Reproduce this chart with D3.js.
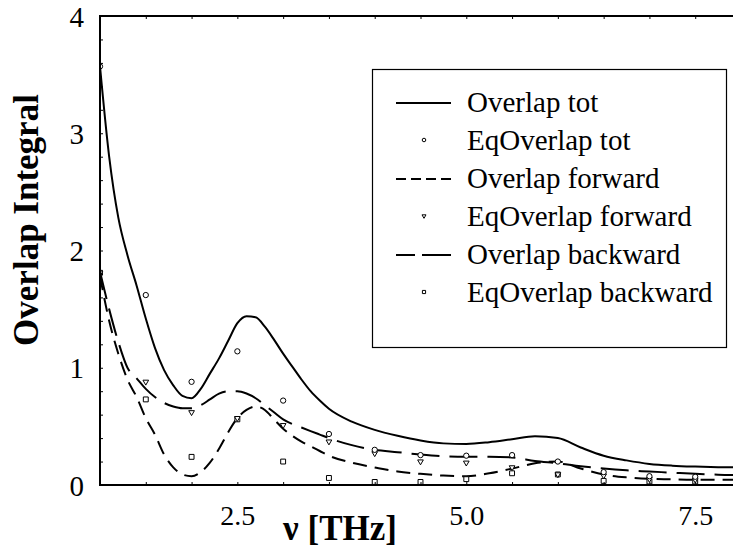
<!DOCTYPE html>
<html>
<head>
<meta charset="utf-8">
<script src="https://cdn.jsdelivr.net/npm/d3@7"></script>
<style>
  html, body { margin: 0; padding: 0; background: #fff; }
  svg { display: block; }
  text { font-family: "Liberation Serif", "Times New Roman", serif; fill: #000; }
</style>
</head>
<body>
<svg id="chart" width="733" height="558"></svg>
<script>
// ---------- data ----------
const lineX = [1.0,1.1,1.2,1.3,1.4,1.5,1.6,1.7,1.8,1.9,2.0,2.1,2.2,2.3,2.4,2.5,2.6,2.7,2.8,2.9,3.0,3.1,3.2,3.3,3.4,3.5,3.75,4.0,4.25,4.5,4.75,5.0,5.25,5.5,5.75,6.0,6.25,6.5,6.75,7.0,7.25,7.5,7.75,8.0];
const overlapTot = [3.57,2.80,2.28,1.96,1.70,1.42,1.17,0.98,0.85,0.76,0.74,0.82,0.95,1.08,1.23,1.38,1.44,1.43,1.35,1.24,1.12,1.01,0.90,0.80,0.72,0.65,0.54,0.47,0.42,0.38,0.355,0.35,0.365,0.39,0.415,0.40,0.32,0.25,0.21,0.18,0.165,0.157,0.152,0.15];
const overlapFwd = [1.78,1.40,1.12,0.90,0.75,0.57,0.43,0.26,0.15,0.09,0.075,0.11,0.19,0.31,0.45,0.57,0.64,0.67,0.64,0.56,0.48,0.42,0.37,0.33,0.29,0.25,0.19,0.15,0.115,0.095,0.08,0.075,0.10,0.14,0.185,0.20,0.14,0.09,0.065,0.052,0.048,0.045,0.045,0.045];
const overlapBwd = [1.82,1.50,1.22,1.00,0.91,0.82,0.75,0.70,0.67,0.655,0.655,0.68,0.73,0.78,0.80,0.80,0.78,0.74,0.68,0.62,0.56,0.52,0.49,0.46,0.43,0.40,0.34,0.30,0.28,0.26,0.245,0.24,0.24,0.235,0.205,0.185,0.16,0.14,0.125,0.115,0.105,0.095,0.088,0.085];

const markerX = [1.0,1.5,2.0,2.5,3.0,3.5,4.0,4.5,5.0,5.5,6.0,6.5,7.0,7.5];
const eqTot = [3.57,1.62,0.88,1.14,0.72,0.435,0.30,0.255,0.25,0.255,0.20,0.11,0.075,0.07];
const eqFwd = [1.81,0.88,0.62,0.57,0.51,0.37,0.27,0.20,0.19,0.15,0.09,0.08,0.05,0.045];
const eqBwd = [1.81,0.73,0.24,0.56,0.20,0.06,0.026,0.026,0.05,0.10,0.09,0.035,0.03,0.03];

const xTickValues = [2.5, 5.0, 7.5];
const yTickValues = [0, 1, 2, 3, 4];
const legendLabels = ["Overlap tot","EqOverlap tot","Overlap forward","EqOverlap forward","Overlap backward","EqOverlap backward"];
const xTitle = "ν [THz]";
const yTitle = "Overlap Integral";

// ---------- layout ----------
const svg = d3.select("#chart");
const X0 = 100, X1 = 741, Y0 = 485, Y1 = 16;
const x = d3.scaleLinear().domain([1, 8]).range([X0, X1]);
const y = d3.scaleLinear().domain([0, 4]).range([Y0, Y1]);

const defs = svg.append("defs");
defs.append("clipPath").attr("id","clip").append("rect")
  .attr("x", X0).attr("y", Y1).attr("width", X1 - X0).attr("height", Y0 - Y1);

const plot = svg.append("g").attr("clip-path","url(#clip)");

const mkLine = vals => d3.line()
  .x((d,i) => x(lineX[i])).y(d => y(d))
  .curve(d3.curveMonotoneX)(vals);

plot.append("path").attr("d", mkLine(overlapTot))
  .attr("fill","none").attr("stroke","#000").attr("stroke-width",2);
plot.append("path").attr("d", mkLine(overlapFwd))
  .attr("fill","none").attr("stroke","#000").attr("stroke-width",2)
  .attr("stroke-dasharray","14,8");
plot.append("path").attr("d", mkLine(overlapBwd))
  .attr("fill","none").attr("stroke","#000").attr("stroke-width",2)
  .attr("stroke-dasharray","28,10");

// markers
const symCircle = d3.symbol().type(d3.symbolCircle).size(22);
const symTri = d3.symbol().type(d3.symbolTriangle).size(14);
const symSq = d3.symbol().type(d3.symbolSquare).size(24);

function drawMarkers(vals, sym, rot) {
  plot.append("g").selectAll("path").data(vals).join("path")
    .attr("d", sym())
    .attr("transform", (d,i) => `translate(${x(markerX[i])},${y(d)}) rotate(${rot})`)
    .attr("fill","#fff").attr("stroke","#000").attr("stroke-width",1);
}
drawMarkers(eqBwd, symSq, 0);
drawMarkers(eqFwd, symTri, 180);
drawMarkers(eqTot, symCircle, 0);

// ---------- axes ----------
const axG = svg.append("g");
// frame lines
axG.append("line").attr("x1",X0).attr("x2",X0).attr("y1",Y1).attr("y2",Y0+1).attr("stroke","#000").attr("stroke-width",2);
axG.append("line").attr("x1",X0-1).attr("x2",X1).attr("y1",Y0).attr("y2",Y0).attr("stroke","#000").attr("stroke-width",2);
axG.append("line").attr("x1",X0-1).attr("x2",X1).attr("y1",Y1).attr("y2",Y1).attr("stroke","#000").attr("stroke-width",2);
axG.append("line").attr("x1",X1).attr("x2",X1).attr("y1",Y1).attr("y2",Y0).attr("stroke","#000").attr("stroke-width",2);

// minor ticks via d3 axes (inward)
const xMinor = d3.range(1.5, 8.01, 0.5);
const yMinor = d3.range(0.2, 4.0, 0.2);

const bottomAxis = d3.axisTop(x).tickValues(xMinor).tickSize(3).tickFormat("");
svg.append("g").attr("transform",`translate(0,${Y0})`).call(bottomAxis)
  .call(g => g.select(".domain").remove())
  .call(g => g.selectAll("line").attr("stroke","#000").attr("stroke-width",1));
const topAxis = d3.axisBottom(x).tickValues(xMinor).tickSize(3).tickFormat("");
svg.append("g").attr("transform",`translate(0,${Y1})`).call(topAxis)
  .call(g => g.select(".domain").remove())
  .call(g => g.selectAll("line").attr("stroke","#000").attr("stroke-width",1));
const leftAxis = d3.axisRight(y).tickValues(yMinor).tickSize(3).tickFormat("");
svg.append("g").attr("transform",`translate(${X0},0)`).call(leftAxis)
  .call(g => g.select(".domain").remove())
  .call(g => g.selectAll("line").attr("stroke","#000").attr("stroke-width",1));

// tick labels
const xLab = d3.axisBottom(x).tickValues(xTickValues).tickSize(0).tickPadding(0).tickFormat(d3.format(".1f"));
svg.append("g").attr("transform",`translate(0,${Y0})`).call(xLab)
  .call(g => g.select(".domain").remove())
  .call(g => g.selectAll("text").attr("y", 40).attr("dy", null)
    .style("font-family","'Liberation Serif', serif").style("font-size","28px").attr("fill","#000"));
const yLab = d3.axisLeft(y).tickValues(yTickValues).tickSize(0).tickPadding(0).tickFormat(d3.format("d"));
svg.append("g").attr("transform",`translate(${X0},0)`).call(yLab)
  .call(g => g.select(".domain").remove())
  .call(g => g.selectAll("text").attr("x", -16).attr("dy","0.35em")
    .style("font-family","'Liberation Serif', serif").style("font-size","29px").attr("fill","#000"));

// axis titles
svg.append("text").attr("x", 340).attr("y", 540).attr("text-anchor","middle")
  .style("font-size","35px").style("font-weight","bold").text(xTitle);
svg.append("text").attr("transform","translate(38,220) rotate(-90)").attr("text-anchor","middle")
  .style("font-size","35px").style("font-weight","bold").text(yTitle);

// ---------- legend ----------
const lg = svg.append("g");
lg.append("rect").attr("x",372.5).attr("y",69.5).attr("width",354).attr("height",278)
  .attr("fill","#fff").attr("stroke","#000").attr("stroke-width",1.2);
const legendStyles = [
  {kind:"line", dash:null},
  {kind:"sym", sym:d3.symbol().type(d3.symbolCircle).size(10), rot:0},
  {kind:"line", dash:"10,5"},
  {kind:"sym", sym:d3.symbol().type(d3.symbolTriangle).size(7), rot:180},
  {kind:"line", dash:"19,7,29"},
  {kind:"sym", sym:d3.symbol().type(d3.symbolSquare).size(10), rot:0}
];
legendLabels.forEach((lab, i) => {
  const base = 112 + 38 * i;
  const st = legendStyles[i];
  const cy = base - 9;
  if (st.kind === "line") {
    lg.append("line").attr("x1",396).attr("x2",451).attr("y1",cy).attr("y2",cy)
      .attr("stroke","#000").attr("stroke-width",2)
      .attr("stroke-dasharray", st.dash);
  } else {
    lg.append("path").attr("d", st.sym())
      .attr("transform",`translate(424,${cy - 1}) rotate(${st.rot})`)
      .attr("fill","#fff").attr("stroke","#000").attr("stroke-width",1);
  }
  lg.append("text").attr("x",467).attr("y",base).style("font-size","29px").text(lab);
});
</script>
</body>
</html>
